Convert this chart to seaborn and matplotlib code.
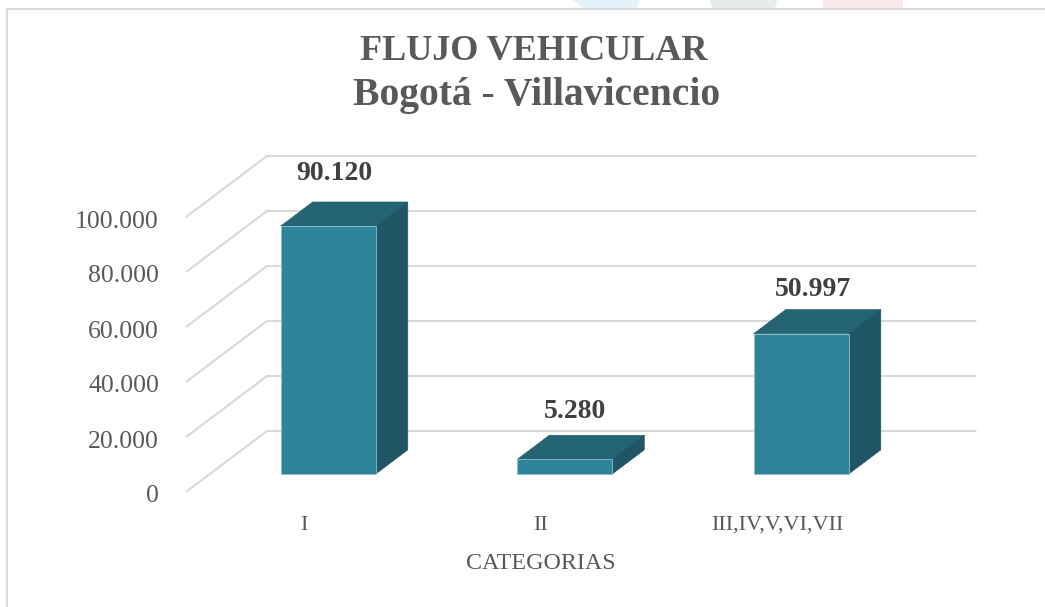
import matplotlib
matplotlib.use("Agg")
import matplotlib.pyplot as plt
from matplotlib.patches import Rectangle, Polygon
from matplotlib.transforms import Affine2D
import pandas as pd
import seaborn as sns

categories = ["I", "II", "III,IV,V,VI,VII"]
vehicles = [90120, 5280, 50997]
axis_ticks = [0, 20000, 40000, 60000, 80000, 100000]
title_line1 = "FLUJO VEHICULAR"
title_line2 = "Bogotá - Villavicencio"
x_title = "CATEGORIAS"

W, H = 1045, 607
FONT = ["Liberation Serif", "DejaVu Serif"]
FRONT, SIDE, TOP = "#2f839b", "#1f5564", "#246473"
EDGE = "#8fbccb"
GRID = "#d9d9d9"
TXT = "#595959"
DARK = "#404040"

sns.set_theme(style="white")
plt.rcParams["font.family"] = FONT

fig = plt.figure(figsize=(W / 100, H / 100), dpi=100, facecolor="white")
# axes rectangle = front plane of the 3D box, in pixels
L, R, T, B = 186, 895.5, 217, 492
ax = fig.add_axes([L / W, 1 - B / H, (R - L) / W, (B - T) / H])
ax.patch.set_alpha(0)

df = pd.DataFrame({"cat": categories, "veh": vehicles})
sns.barplot(data=df, x="cat", y="veh", color=FRONT, saturation=1, width=95 / 236.5,
            ax=ax, zorder=3)
ax.set_xlim(-0.5, 2.5)
ax.set_ylim(0, 100000)

px_x = 3 / (R - L)            # data x per pixel
px_y = 100000 / (B - T)       # data y per pixel
BOX_DX, BOX_DY = 81, 61       # full depth of the box
GAP = 24 / 81                 # bar depth start
BAR = 32 / 81                 # bar depth extent


def deep(x, y, f):
    """Point (x, y) pushed back by fraction f of the box depth."""
    return x + f * BOX_DX * px_x, y + f * BOX_DY * px_y


# gridlines: wall diagonal + back-wall line
for v in axis_ticks:
    xb, yb = deep(-0.5, v, 1)
    ax.plot([-0.5, xb, 2.5 + BOX_DX * px_x], [v, yb, yb], color=GRID, lw=1.5,
            clip_on=False, zorder=1, solid_joinstyle="miter", solid_capstyle="butt")

# bars: the seaborn patches are shifted back, then given top and side faces
a, b = GAP, GAP + BAR
for patch in list(ax.patches):
    x0, w, h = patch.get_x(), patch.get_width(), patch.get_height()
    patch.set_xy(deep(x0, 0, a))
    patch.set_clip_on(False)
    patch.set_edgecolor(EDGE)
    patch.set_linewidth(0.6)
    patch.set_zorder(4)
    top = [deep(x0, h, a), deep(x0 + w, h, a), deep(x0 + w, h, b), deep(x0, h, b)]
    side = [deep(x0 + w, 0, a), deep(x0 + w, h, a), deep(x0 + w, h, b), deep(x0 + w, 0, b)]
    ax.add_patch(Polygon(top, closed=True, facecolor=TOP, edgecolor=TOP, lw=0.5,
                         clip_on=False, zorder=3))
    ax.add_patch(Polygon(side, closed=True, facecolor=SIDE, edgecolor=SIDE, lw=0.5,
                         clip_on=False, zorder=3))

# value labels
label_shift = [(6.5, 28.5), (10, 23.5), (11.5, 20)]
for i, v in enumerate(vehicles):
    x, y = deep(i, v, GAP + BAR)
    xf, _ = deep(i, v, GAP)
    dx, dy = label_shift[i]
    ax.annotate(f"{v:,}".replace(",", "."), (xf, y), xytext=(dx * 0.72, dy * 0.72),
                textcoords="offset points", ha="center", va="center",
                fontsize=20, fontweight="bold", color=DARK, annotation_clip=False,
                zorder=6)

ax.set_yticks(axis_ticks)
ax.set_yticklabels([f"{v:,}".replace(",", ".") for v in axis_ticks])
ax.set_xticks(range(len(categories)))
ax.set_xticklabels(categories)
ax.tick_params(axis="y", length=0, pad=19.5, labelsize=18.5, labelcolor=TXT)
ax.tick_params(axis="x", length=0, pad=17.3, labelsize=16, labelcolor=TXT)
for lab in ax.get_yticklabels():
    lab.set_transform(lab.get_transform() + Affine2D().translate(0, -2))
ax.set_xlabel(x_title, fontsize=17.3, color=TXT, labelpad=12.8)
ax.set_ylabel("")
for s in ax.spines.values():
    s.set_visible(False)

fig.text(534 / W, 1 - 52 / H, title_line1, ha="center", va="center", fontsize=26,
         fontweight="bold", color=TXT)
fig.text(537 / W, 1 - 96 / H, title_line2, ha="center", va="center", fontsize=28.5,
         fontweight="bold", color=TXT)

# chart frame and the cropped header shapes above it
fig.add_artist(Rectangle((6.5 / W, -0.01), 1.1, 1 - 8.5 / H + 0.01, transform=fig.transFigure,
                         fill=False, edgecolor="#dcdcdc", lw=1.5))
header = [((573, 0), (640, 0), (637, 8), (583, 8), "#e3f3fb"),
          ((710, 0), (777, 0), (775, 8), (712, 8), "#e6ecea"),
          ((822, 0), (903, 0), (903, 8), (823, 8), "#fce9eb")]
for p0, p1, p2, p3, c in header:
    pts = [(px / W, 1 - py / H) for px, py in (p0, p1, p2, p3)]
    fig.add_artist(Polygon(pts, closed=True, transform=fig.transFigure, facecolor=c,
                           edgecolor="none"))

fig.savefig("out.png", dpi=100)
